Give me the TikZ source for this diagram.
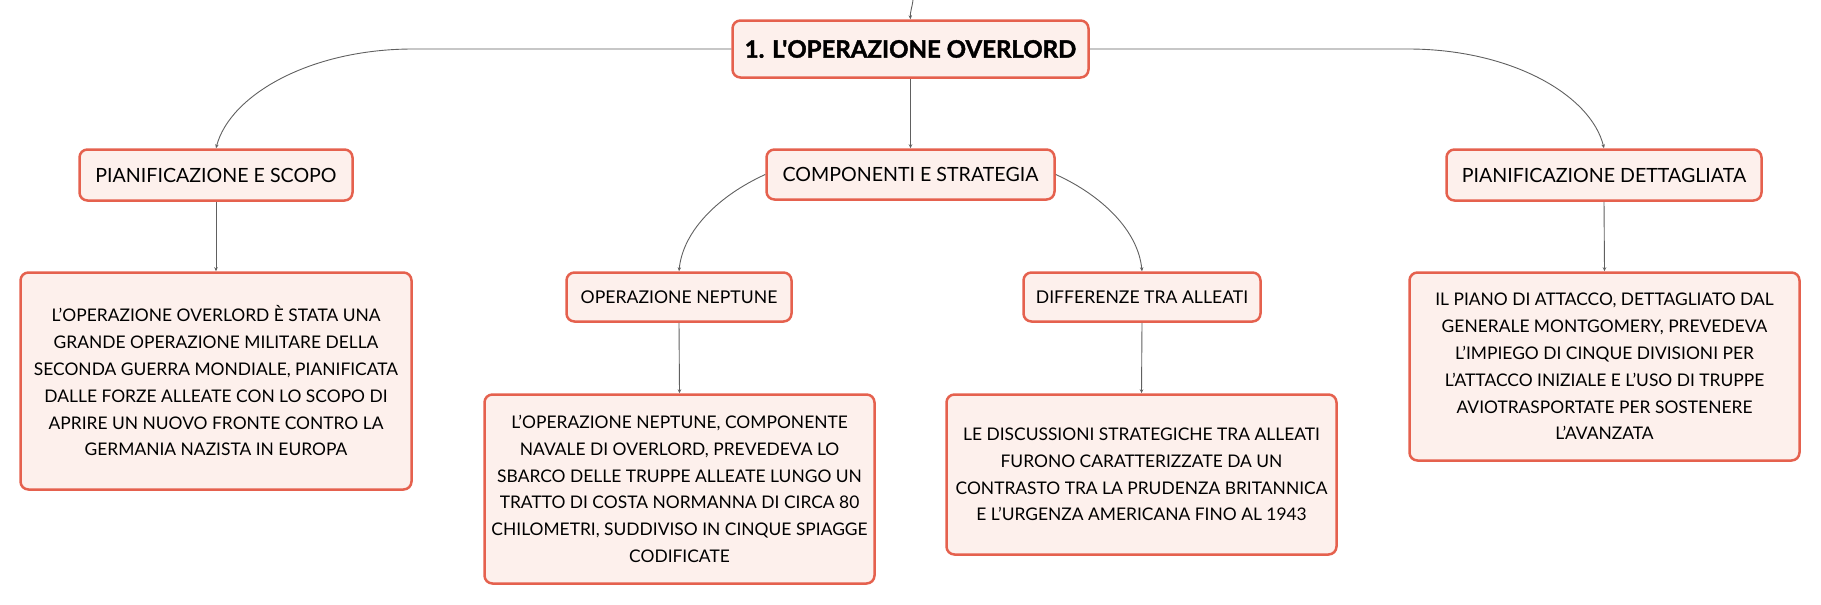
\documentclass[tikz,border=0pt]{standalone}
\usepackage{fontspec}
\setmainfont{Lato}
\newfontfamily\titlefont{Lato}[BoldFeatures={FakeBold=1.6}]
\usetikzlibrary{arrows.meta}
\definecolor{bordc}{HTML}{E5614E}
\definecolor{fillc}{HTML}{FDF0EC}
\definecolor{linec}{HTML}{606060}
\begin{document}
\begin{tikzpicture}[x=1pt,y=-1pt,
  box/.style={draw=bordc, fill=fillc, line width=2.5pt, rounded corners=8pt,
    align=center, inner sep=0pt, text=black, font=\fontsize{17.4}{26.8}\selectfont},
  lbl/.style={box, font=\fontsize{19.6}{22}\selectfont},
  sublbl/.style={box, font=\fontsize{17.6}{20}\selectfont},
  conn/.style={draw=linec, line width=0.9pt, -{Stealth[length=4pt,width=3.5pt]}}]
\useasboundingbox (0,0) rectangle (1821,605);

% main node
\node[box, font=\titlefont\fontsize{24}{30}\selectfont\bfseries, minimum width=356pt, minimum height=57pt]
  (root) at (910.5,49) {1. L'OPERAZIONE OVERLORD};

% level 1
\node[lbl, minimum width=273pt, minimum height=51pt] (pes) at (216,175) {PIANIFICAZIONE E SCOPO};
\node[lbl, minimum width=288pt, minimum height=50pt] (comp) at (910.5,174.5) {COMPONENTI E STRATEGIA};
\node[lbl, minimum width=315pt, minimum height=51pt] (pdet) at (1604,175) {PIANIFICAZIONE DETTAGLIATA};

% level 2 labels
\node[sublbl, minimum width=225pt, minimum height=49pt] (nep) at (679,297) {OPERAZIONE NEPTUNE};
\node[sublbl, minimum width=237pt, minimum height=49pt] (diff) at (1142,297) {DIFFERENZE TRA ALLEATI};

% text boxes
\node[box, minimum width=391pt, minimum height=217pt] (pestx) at (216,381)
  {L'OPERAZIONE OVERLORD È STATA UNA\\GRANDE OPERAZIONE MILITARE DELLA\\SECONDA GUERRA MONDIALE, PIANIFICATA\\DALLE FORZE ALLEATE CON LO SCOPO DI\\APRIRE UN NUOVO FRONTE CONTRO LA\\GERMANIA NAZISTA IN EUROPA};
\node[box, minimum width=390pt, minimum height=189pt] (neptx) at (679.5,489)
  {L'OPERAZIONE NEPTUNE, COMPONENTE\\NAVALE DI OVERLORD, PREVEDEVA LO\\SBARCO DELLE TRUPPE ALLEATE LUNGO UN\\TRATTO DI COSTA NORMANNA DI CIRCA 80\\CHILOMETRI, SUDDIVISO IN CINQUE SPIAGGE\\CODIFICATE};
\node[box, minimum width=390pt, minimum height=160pt] (difftx) at (1141.5,474.5)
  {LE DISCUSSIONI STRATEGICHE TRA ALLEATI\\FURONO CARATTERIZZATE DA UN\\CONTRASTO TRA LA PRUDENZA BRITANNICA\\E L'URGENZA AMERICANA FINO AL 1943};
\node[box, minimum width=390pt, minimum height=188pt] (pdettx) at (1604.5,366.5)
  {IL PIANO DI ATTACCO, DETTAGLIATO DAL\\GENERALE MONTGOMERY, PREVEDEVA\\L'IMPIEGO DI CINQUE DIVISIONI PER\\L'ATTACCO INIZIALE E L'USO DI TRUPPE\\AVIOTRASPORTATE PER SOSTENERE\\L'AVANZATA};

% connectors
\coordinate (topin) at (913,0);
\draw[conn] (topin) .. controls (912,8) and (910,12) .. (root.north);
\draw[conn] (root.west) -- (413,49) .. controls (310,49) and (230,95) .. (pes.north);
\draw[conn] (root.east) -- (1408,49) .. controls (1511,49) and (1591,95) .. (pdet.north);
\draw[conn] (root.south) -- (comp.north);
\draw[conn] (comp.west) .. controls (720,195) and (683,230) .. (nep.north);
\draw[conn] (comp.east) .. controls (1101,195) and (1138,230) .. (diff.north);
\draw[conn] (pes.south) -- (pestx.north);
\draw[conn] (nep.south) -- (neptx.north);
\draw[conn] (diff.south) -- (difftx.north);
\draw[conn] (pdet.south) -- (pdettx.north);
\end{tikzpicture}
\end{document}
